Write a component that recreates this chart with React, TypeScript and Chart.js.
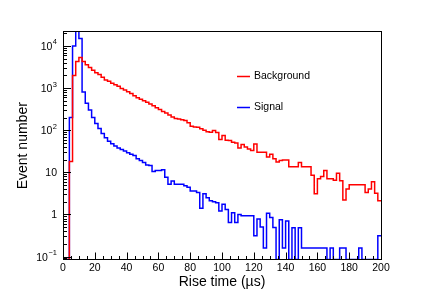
import React, { useEffect, useRef } from "react";
import { Chart, registerables } from "chart.js";

Chart.register(...registerables);

// Histogram: 100 bins of 2 µs from 0 to 200 µs
const binWidth = 2;
const binStarts: number[] = Array.from({ length: 100 }, (_, i) => i * binWidth);

const backgroundCounts: number[] = [
  0, 0, 18, 2000, 4300, 5300, 4300, 3600, 3100, 2650,
  2300, 2100, 1800, 1550, 1450, 1300, 1200, 1100, 980, 900,
  820, 740, 660, 590, 540, 500, 460, 420, 380, 340,
  310, 280, 255, 230, 205, 190, 185, 178, 170, 150,
  125, 120, 118, 108, 100, 92, 90, 98, 88, 60,
  75, 58, 57, 52, 50, 38, 46, 40, 36, 33,
  47, 30, 30, 30, 23, 27, 21, 17.5, 19, 19.5,
  19.5, 13.5, 13.5, 13.5, 17, 13.5, 13.5, 13.5, 8.5, 3.1,
  7, 8, 11, 7, 7, 6.5, 9.5, 6.3, 2.2, 4,
  5.1, 5.1, 5.1, 5.1, 5.1, 3.3, 4, 6, 3.2, 2.1,
];

const signalCounts: number[] = [
  0, 0, 200, 10000, 26000, 15000, 810, 435, 300, 200,
  145, 110, 83, 66, 55, 48, 42, 38, 35, 32,
  29, 27, 25, 21, 19, 17, 15, 14.5, 10.5, 11,
  11, 11.5, 7.6, 5.2, 6.2, 5.2, 5.2, 5.2, 4.8, 4.4,
  3.6, 3.6, 3.3, 1.4, 3.1, 2.5, 2.1, 2.0, 1.9, 1.2,
  1.75, 1.3, 0.64, 1.1, 0.64, 1.0, 0.93, 0.93, 0.93, 0.93,
  0.31, 0.78, 0.5, 0.16, 1.07, 0.85, 0.49, 0, 0.75, 0.16,
  0.7, 0, 0.48, 0, 0.48, 0.16, 0.16, 0.16, 0.16, 0.16,
  0.16, 0.16, 0.16, 0, 0.16, 0, 0, 0.16, 0.16, 0,
  0, 0, 0, 0.16, 0, 0, 0, 0, 0, 0.31,
];

const seriesNames: string[] = ["Background", "Signal"];
const yTickValues: number[] = [0.1, 1, 10, 100, 1000, 10000];
const yTickBase: string[] = ["10", "1", "10", "10", "10", "10"];
const yTickExp: string[] = ["\u22121", "", "", "2", "3", "4"];
const xTickStep = 20;
const xMinorStep = 5;
const yMin = 0.085;
const yMax = 21500;

const FONT = "'Liberation Sans', Arial, Helvetica, sans-serif";

// empty bins are drawn on the axis floor, as ROOT does
function toSteps(counts: number[]) {
  const pts = counts.map((v, i) => ({ x: binStarts[i], y: Math.max(v, yMin) }));
  pts.push({ x: binStarts[binStarts.length - 1] + binWidth, y: Math.max(counts[counts.length - 1], yMin) });
  return pts;
}

const rootPlugin = {
  id: "rootStyle",
  afterDraw(chart: any) {
    const { ctx, chartArea } = chart;
    const xs = chart.scales.x;
    const ys = chart.scales.y;
    const L = chartArea.left, R = chartArea.right, T = chartArea.top, B = chartArea.bottom;
    ctx.save();
    ctx.strokeStyle = "#000";
    ctx.lineWidth = 1;
    // frame
    ctx.strokeRect(Math.round(L) + 0.5, Math.round(T) - 0.5, Math.round(R - L), Math.round(B - T));
    // x ticks (inside, upward)
    ctx.beginPath();
    for (let v = xs.min; v <= xs.max + 1e-9; v += xMinorStep) {
      const px = Math.round(xs.getPixelForValue(v)) + 0.5;
      const len = v % xTickStep === 0 ? 7 : 3.5;
      ctx.moveTo(px, B);
      ctx.lineTo(px, B - len);
    }
    // y ticks (inside, rightward)
    for (let d = -2; d <= 5; d++) {
      for (let m = 1; m <= 9; m++) {
        const v = m * Math.pow(10, d);
        if (v < ys.min || v > ys.max) continue;
        const py = Math.round(ys.getPixelForValue(v)) + 0.5;
        const len = m === 1 ? 8 : 4;
        ctx.moveTo(L, py);
        ctx.lineTo(L + len, py);
      }
    }
    ctx.stroke();
    // y tick labels with superscript exponents
    ctx.fillStyle = "#000";
    ctx.textBaseline = "alphabetic";
    ctx.textAlign = "left";
    yTickValues.forEach((v, i) => {
      const py = ys.getPixelForValue(v);
      const base = yTickBase[i];
      const exp = yTickExp[i];
      ctx.font = "10.5px " + FONT;
      const bw = ctx.measureText(base).width;
      ctx.font = "7.5px " + FONT;
      const ew = exp ? ctx.measureText(exp).width + 0.5 : 0;
      const right = L - 6;
      const x0 = right - bw - ew;
      ctx.font = "10.5px " + FONT;
      ctx.fillText(base, x0, py + 4);
      if (exp) {
        ctx.font = "7.5px " + FONT;
        ctx.fillText(exp, x0 + bw + 0.5, py - 1.5);
      }
    });
    // legend
    const colors = ["#ff0000", "#0000ff"];
    const legendY = [76.5, 107.5];
    ctx.font = "10.5px " + FONT;
    ctx.textBaseline = "middle";
    seriesNames.forEach((name, i) => {
      ctx.strokeStyle = colors[i];
      ctx.lineWidth = 1.5;
      ctx.beginPath();
      ctx.moveTo(237, legendY[i]);
      ctx.lineTo(250, legendY[i]);
      ctx.stroke();
      ctx.fillText(name, 254, legendY[i]);
    });
    ctx.restore();
  },
};

export default function App() {
  const ref = useRef<HTMLCanvasElement | null>(null);
  useEffect(() => {
    if (!ref.current) return;
    const chart = new Chart(ref.current, {
      type: "line",
      data: {
        datasets: [
          {
            label: seriesNames[0],
            data: toSteps(backgroundCounts),
            borderColor: "#ff0000",
            borderWidth: 1.5,
            stepped: true,
            pointRadius: 0,
            fill: false,
          },
          {
            label: seriesNames[1],
            data: toSteps(signalCounts),
            borderColor: "#0000ff",
            borderWidth: 1.5,
            stepped: true,
            pointRadius: 0,
            fill: false,
          },
        ],
      },
      options: {
        animation: false,
        responsive: false,
        events: [],
        layout: { padding: { top: 32, right: 43, left: 0, bottom: 0 } },
        plugins: { legend: { display: false }, tooltip: { enabled: false } },
        scales: {
          x: {
            type: "linear",
            min: 0,
            max: 200,
            grid: { display: false, drawTicks: false },
            border: { display: true, color: "#000", width: 1 },
            ticks: {
              stepSize: xTickStep,
              color: "#000",
              font: { family: FONT, size: 10.5 },
              padding: 2,
              maxRotation: 0,
            },
            title: {
              display: true,
              text: "Rise time (\u00B5s)",
              color: "#000",
              font: { family: FONT, size: 14 },
              padding: { top: 0, bottom: 15 },
            },
            afterFit: (s: any) => { s.height = 46.5; },
          },
          y: {
            type: "logarithmic",
            min: yMin,
            max: yMax,
            grid: { display: false, drawTicks: false },
            border: { display: true, color: "#000", width: 1 },
            afterBuildTicks: (s: any) => { s.ticks = yTickValues.map((v) => ({ value: v })); },
            ticks: {
              color: "#000",
              font: { family: FONT, size: 10 },
              padding: 6,
              callback: () => "",
            },
            title: {
              display: true,
              text: "Event number",
              color: "#000",
              font: { family: FONT, size: 14 },
              padding: { top: 15, bottom: 0 },
            },
            afterFit: (s: any) => { s.width = 63; },
          },
        },
      },
      plugins: [rootPlugin],
    });
    return () => chart.destroy();
  }, []);
  return (
    <div style={{ position: "absolute", left: 0, top: 0, width: 424, height: 306, background: "#fff" }}>
      <canvas ref={ref} width={424} height={306} style={{ display: "block" }} />
    </div>
  );
}
